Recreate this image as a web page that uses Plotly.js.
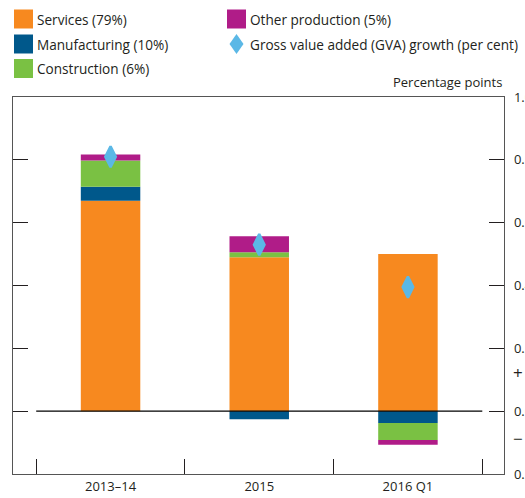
<!DOCTYPE html>
<html>
<head>
<meta charset="utf-8">
<script src="https://cdn.plot.ly/plotly-3.0.1.min.js"></script>
<style>html,body{margin:0;padding:0;background:#fff;}#chart{width:525px;height:498px;}</style>
</head>
<body>
<div id="chart"></div>
<script>
// ---- data ----
const categories = ['2013–14', '2015', '2016 Q1'];
const services = [0.67, 0.49, 0.50];
const manufacturing = [0.044, -0.026, -0.038];
const construction = [0.084, 0.016, -0.054];
const otherProduction = [0.019, 0.051, -0.015];
const gvaGrowth = [0.81, 0.53, 0.395];
const yTickVals = [-0.2, 0, 0.2, 0.4, 0.6, 0.8, 1.0];
const yTickText = ['0.2', '0.0', '0.2', '0.4', '0.6', '0.8', '1.0'];

const colors = {
  services: '#F7891F',
  manufacturing: '#00588B',
  construction: '#7AC143',
  other: '#B01C88',
  gva: '#5BB8E6'
};
const FONT = 'Open Sans, Noto Sans, sans-serif';
const TXT = '#231F20';

// plot area in pixels (for placing legend items)
const L = 13, R = 504, T = 97, B = 474;
const px = x => (x - L) / (R - L);
const py = y => (B - y) / (B - T);

function bar(name, y, color) {
  return {type: 'bar', name: name, x: categories, y: y, width: 0.4,
    marker: {color: color, line: {width: 0}}, showlegend: false, hoverinfo: 'skip'};
}

const data = [
  bar('Services (79%)', services, colors.services),
  bar('Manufacturing (10%)', manufacturing, colors.manufacturing),
  bar('Construction (6%)', construction, colors.construction),
  bar('Other production (5%)', otherProduction, colors.other),
  {type: 'scatter', mode: 'markers', x: categories, y: gvaGrowth, showlegend: false,
   marker: {symbol: 'diamond-tall', size: 15, color: colors.gva, line: {color: colors.gva, width: 2.5}},
   hoverinfo: 'skip'}
];

const legendItems = [
  {label: 'Services (79%)', color: colors.services, x: 14, y: 19},
  {label: 'Manufacturing (10%)', color: colors.manufacturing, x: 14, y: 44},
  {label: 'Construction (6%)', color: colors.construction, x: 14, y: 68.5},
  {label: 'Other production (5%)', color: colors.other, x: 227, y: 19},
  {label: 'Gross value added (GVA) growth (per cent)', color: colors.gva, x: 227, y: 44, diamond: true}
];

const shapes = [
  {type: 'line', xref: 'x', yref: 'y', x0: -0.5, x1: 2.5, y0: 0, y1: 0,
   line: {color: '#000', width: 1.2}, layer: 'above'}
];
const annotations = [];
legendItems.forEach(it => {
  if (it.diamond) {
    shapes.push({type: 'path', xref: 'paper', yref: 'paper', xsizemode: 'pixel', ysizemode: 'pixel',
      xanchor: px(it.x + 9.5), yanchor: py(it.y),
      path: 'M0,10 L7,0 L0,-10 L-7,0 Z', fillcolor: it.color, line: {width: 0}});
  } else {
    shapes.push({type: 'rect', xref: 'paper', yref: 'paper',
      x0: px(it.x), x1: px(it.x + 19), y0: py(it.y - 9.5), y1: py(it.y + 9.5),
      fillcolor: it.color, line: {width: 0}});
  }
  annotations.push({xref: 'paper', yref: 'paper', x: px(it.x + 21), y: py(it.y),
    xanchor: 'left', yanchor: 'middle', showarrow: false, text: it.label,
    font: {family: FONT, size: 13.6, color: TXT}});
});
annotations.push({xref: 'paper', yref: 'paper', x: px(504), y: py(82), xanchor: 'right', yanchor: 'middle',
  showarrow: false, text: 'Percentage points', font: {family: FONT, size: 13, color: TXT}});
annotations.push({xref: 'paper', yref: 'y', x: px(511), y: 0.124, xanchor: 'left', yanchor: 'middle',
  showarrow: false, text: '+', font: {family: FONT, size: 17, color: TXT}});
annotations.push({xref: 'paper', yref: 'y', x: px(511), y: -0.086, xanchor: 'left', yanchor: 'middle',
  showarrow: false, text: '−', font: {family: FONT, size: 17, color: TXT}});

const layout = {
  width: 525, height: 498,
  margin: {l: L, r: 525 - R, t: T, b: 498 - B, pad: 0},
  paper_bgcolor: '#fff', plot_bgcolor: '#fff',
  barmode: 'relative',
  showlegend: false,
  font: {family: FONT, size: 13, color: TXT},
  xaxis: {type: 'category', range: [-0.656, 2.646], tickson: 'boundaries', ticks: 'inside', ticklen: 15,
    tickcolor: '#231F20', tickwidth: 1, showline: true, linecolor: '#555', linewidth: 1.3, mirror: true,
    showgrid: false, zeroline: false, fixedrange: true,
    tickfont: {family: FONT, size: 13, color: TXT}},
  yaxis: {side: 'right', range: [-0.2, 1.0], tickvals: yTickVals, ticktext: yTickText,
    ticks: 'inside', ticklen: 15, tickcolor: '#231F20', tickwidth: 1,
    showline: true, linecolor: '#555', linewidth: 1.3, mirror: 'ticks',
    showgrid: false, zeroline: false, fixedrange: true, ticklabelstandoff: 6,
    tickfont: {family: FONT, size: 13, color: TXT}},
  shapes: shapes,
  annotations: annotations
};

Plotly.newPlot('chart', data, layout, {staticPlot: true, displayModeBar: false});
</script>
</body>
</html>
